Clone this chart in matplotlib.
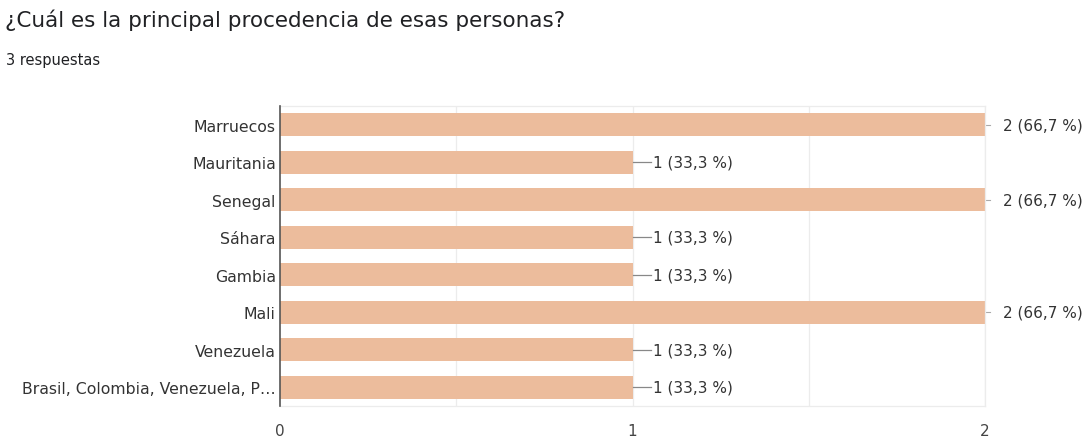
import matplotlib.pyplot as plt
import numpy as np

# ///---- Datos ----///
paises = ['Marruecos', 'Mauritania', 'Senegal', 'Sáhara', 'Gambia', 'Mali',
          'Venezuela', 'Brasil, Colombia, Venezuela, P…']
respuestas = [2, 1, 2, 1, 1, 2, 1, 1]
etiquetas = ['2 (66,7 %)', '1 (33,3 %)', '2 (66,7 %)', '1 (33,3 %)',
             '1 (33,3 %)', '2 (66,7 %)', '1 (33,3 %)', '1 (33,3 %)']
ticks_x = [0, 1, 2]

plt.rcParams['font.family'] = ['DejaVu Sans']

fig = plt.figure(figsize=(10.86, 4.39), dpi=100)
ax = fig.add_axes([280 / 1086, 1 - 407 / 439, 705 / 1086, 300 / 439])

y = np.arange(len(paises))
ax.barh(y, respuestas, height=0.62, color='#ecbc9c', zorder=2)

# grilla suave
for gx in [0.5, 1, 1.5, 2]:
    ax.axvline(gx, color='#ececec', lw=0.9, zorder=1)

ax.set_xlim(0, 2)
ax.set_ylim(len(paises) - 0.5, -0.5)
ax.set_yticks(y)
ax.set_yticklabels(paises, fontsize=11.3, color='#333333')
ax.set_xticks(ticks_x)
ax.set_xticklabels([str(t) for t in ticks_x], fontsize=11, color='#444444')
ax.tick_params(axis='both', length=0)
ax.tick_params(axis='y', pad=3)
ax.tick_params(axis='x', pad=12)

for s in ['top', 'bottom', 'right']:
    ax.spines[s].set_color('#ececec')
    ax.spines[s].set_linewidth(0.9)
ax.spines['left'].set_color('#555555')
ax.spines['left'].set_linewidth(1.2)
ax.spines['left'].set_zorder(3)

# etiquetas de valor con linea guia
for yi, v, t in zip(y, respuestas, etiquetas):
    if v == 2:
        ax.plot([v, v + 0.015], [yi, yi], color='#aaaaaa', lw=0.8, clip_on=False)
        ax.annotate(t, (v, yi), xytext=(13, 0), textcoords='offset points',
                    va='center', ha='left', fontsize=11, color='#333333',
                    annotation_clip=False)
    else:
        ax.plot([v, v + 0.052], [yi, yi], color='#888888', lw=0.9, zorder=3)
        ax.annotate(t, (v, yi), xytext=(14.5, 0), textcoords='offset points',
                    va='center', ha='left', fontsize=11, color='#333333')

fig.text(5 / 1086, 1 - 20 / 439, '¿Cuál es la principal procedencia de esas personas?',
         fontsize=15.5, color='#202124', va='center', ha='left')
fig.text(6 / 1086, 1 - 60 / 439, '3 respuestas', fontsize=10.5, color='#202124',
         va='center', ha='left')

plt.savefig('out.png', dpi=100)
